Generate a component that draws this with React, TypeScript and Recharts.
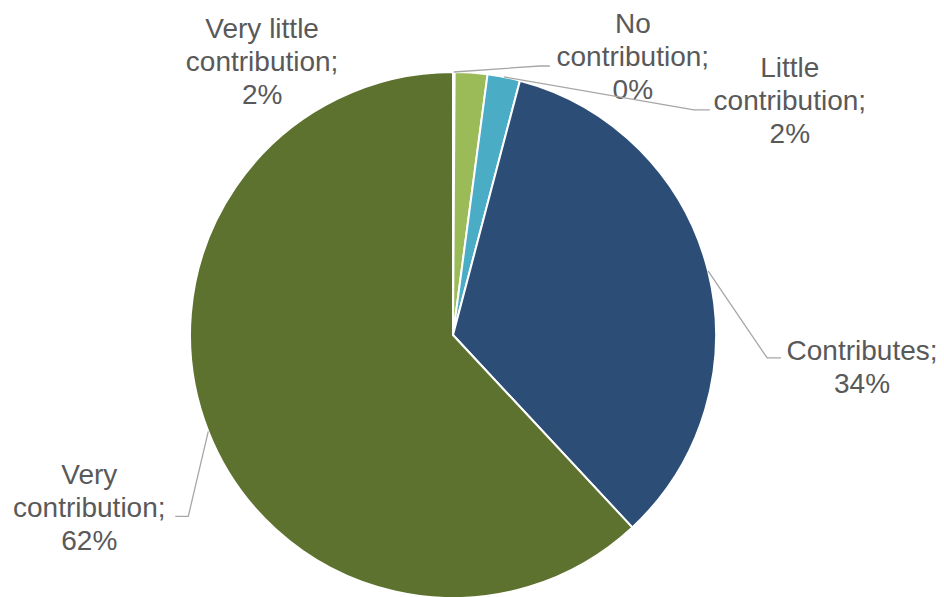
import { PieChart, Pie, Cell } from 'recharts'

const categories = ['No contribution', 'Very little contribution', 'Little contribution', 'Contributes', 'Very contribution']
const shares = [0.1, 2, 2, 34, 62]
const colors = ['#f2f2f2', '#9bbb59', '#4bacc6', '#2c4d75', '#5e7230']

const data = categories.map((name, i) => ({ name, value: shares[i] }))

// label placement, relative to the slice's outer edge point (dx, dy = centre x / first baseline)
// leader: [elbow, end] relative to label anchor
const labelLayout = [
  { dx: 179, dy: -39, leader: [[-93, 33], [-83, 33]] },
  { dx: -209, dy: -35, leader: null },
  { dx: 286, dy: 0, leader: [[-96, 33], [-80, 33]] },
  { dx: 154, dy: 89, leader: [[-95, -2], [-81, -2]] },
  { dx: -119, dy: 53, leader: [[99, 32], [86, 32]] },
]

const RAD = Math.PI / 180
const LINE_H = 33

function splitName(name: string) {
  const k = name.lastIndexOf(' ')
  if (k < 0) return [name + ';']
  return [name.slice(0, k), name.slice(k + 1) + ';']
}

function renderLabel(props: any) {
  const { cx, cy, midAngle, outerRadius, index, percent } = props
  const ex = cx + outerRadius * Math.cos(-midAngle * RAD)
  const ey = cy + outerRadius * Math.sin(-midAngle * RAD)
  const lay = labelLayout[index]
  const lx = ex + lay.dx
  const ly = ey + lay.dy
  const lines = [...splitName(categories[index]), Math.round(percent * 100) + '%']
  return (
    <g key={'lbl' + index}>
      {lay.leader && (
        <polyline
          points={[[ex, ey], ...lay.leader.map(([a, b]) => [lx + a, ly + b])].map((p) => p.join(',')).join(' ')}
          fill="none"
          stroke="#a6a6a6"
          strokeWidth={1.3}
        />
      )}
      <text x={lx} y={ly} textAnchor="middle" fill="#595959" fontSize={28} fontFamily="'Liberation Sans', Arial, sans-serif">
        {lines.map((t, i) => (
          <tspan key={i} x={lx} y={ly + i * LINE_H}>
            {t}
          </tspan>
        ))}
      </text>
    </g>
  )
}

export default function App() {
  return (
    <div>
      <style>{`body{margin:0;background:#fff}`}</style>
      <PieChart width={944} height={597} margin={{ top: 0, right: 0, bottom: 0, left: 0 }}>
        <Pie
          data={data}
          dataKey="value"
          nameKey="name"
          cx={453}
          cy={335}
          outerRadius={263}
          startAngle={90}
          endAngle={-270}
          stroke="#ffffff"
          strokeWidth={2}
          label={renderLabel}
          labelLine={false}
          isAnimationActive={false}
        >
          {data.map((d, i) => (
            <Cell key={d.name} fill={colors[i]} />
          ))}
        </Pie>
      </PieChart>
    </div>
  )
}
